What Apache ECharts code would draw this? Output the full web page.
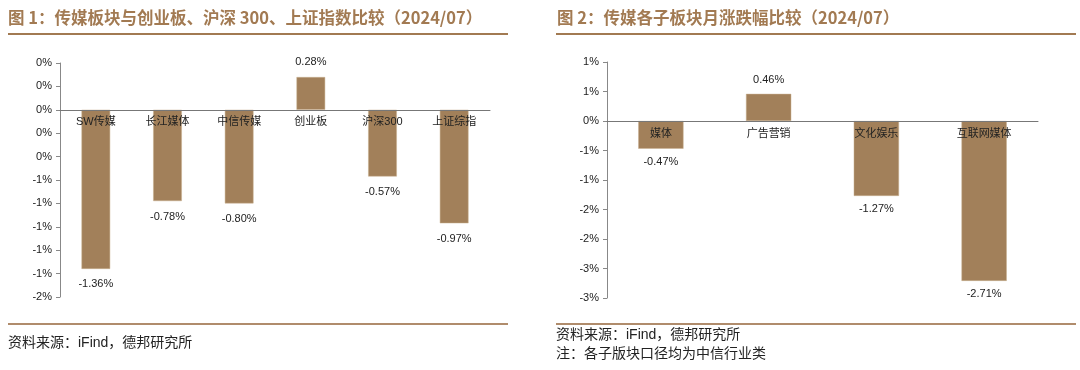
<!DOCTYPE html>
<html>
<head>
<meta charset="utf-8">
<script src="https://cdn.jsdelivr.net/npm/echarts@6/dist/echarts.min.js"></script>
<style>html,body{margin:0;padding:0;background:#fff}#c{width:1080px;height:370px}</style>
</head>
<body>
<div id="c"></div>
<script>
// ---- data ----
const title1 = '图 1：传媒板块与创业板、沪深 300、上证指数比较（2024/07）';
const title2 = '图 2：传媒各子板块月涨跌幅比较（2024/07）';
const cats1 = ['SW传媒', '长江媒体', '中信传媒', '创业板', '沪深300', '上证综指'];
const vals1 = [-1.36, -0.78, -0.80, 0.28, -0.57, -0.97];
const cats2 = ['媒体', '广告营销', '文化娱乐', '互联网媒体'];
const vals2 = [-0.47, 0.46, -1.27, -2.71];
const yRange1 = { min: -1.6, max: 0.4, interval: 0.2 };
const yRange2 = { min: -3, max: 1, interval: 0.5 };
const source1 = '资料来源：iFind，德邦研究所';
const source2 = '资料来源：iFind，德邦研究所';
const note2 = '注：各子版块口径均为中信行业类';

const BAR = '#a2805a';
const BROWN = '#a27a52';
const LINE = '#b08c6c';
const CJK = '"Liberation Sans", "Noto Sans CJK SC", sans-serif';
const LAT = '"Liberation Sans", Arial, sans-serif';

const grids = [
  { left: 60, top: 63, width: 430, height: 234 },
  { left: 607, top: 62, width: 431, height: 236 }
];

function tickFmt(v) {
  const r = Math.sign(v) * Math.round(Math.abs(v));
  return (r === 0 ? 0 : r) + '%';
}
function toData(vals, dist) {
  return vals.map(v => ({
    value: v,
    label: { position: v < 0 ? 'bottom' : 'top', distance: dist }
  }));
}
// place the category axis on the zero line (offset from grid bottom)
function zeroOffset(grid, r) {
  return -grid.height * (0 - r.min) / (r.max - r.min);
}

const chart = echarts.init(document.getElementById('c'), null, { renderer: 'canvas' });

const axisLabelX = { color: '#222', fontSize: 11, fontFamily: CJK, margin: 7, interval: 0 };
const axisLabelY = { color: '#222', fontSize: 11, fontFamily: LAT, margin: 8, formatter: tickFmt };

function xAxisFor(i, cats, r) {
  return {
    type: 'category', gridIndex: i, data: cats, position: 'bottom', z: 5,
    offset: zeroOffset(grids[i], r),
    axisLine: { onZero: false, lineStyle: { color: '#777', width: 1 } },
    axisTick: { inside: true, length: 4, lineStyle: { color: '#777' } },
    axisLabel: axisLabelX
  };
}
function yAxisFor(i, r) {
  return {
    type: 'value', gridIndex: i, min: r.min, max: r.max, interval: r.interval,
    axisLine: { show: true, lineStyle: { color: '#888' } },
    axisTick: { show: true, length: 4, lineStyle: { color: '#888' } },
    splitLine: { show: false },
    axisLabel: axisLabelY
  };
}
const barLabel = { show: true, color: '#222', fontSize: 11, fontFamily: LAT,
                   formatter: p => p.value.toFixed(2) + '%' };

chart.setOption({
  animation: false,
  grid: grids,
  xAxis: [xAxisFor(0, cats1, yRange1), xAxisFor(1, cats2, yRange2)],
  yAxis: [yAxisFor(0, yRange1), yAxisFor(1, yRange2)],
  series: [
    {
      type: 'bar', xAxisIndex: 0, yAxisIndex: 0, data: toData(vals1, 10),
      barWidth: '40%', z: 2,
      itemStyle: { color: BAR, borderColor: '#c8b090', borderWidth: 0.5 },
      label: barLabel
    },
    {
      type: 'bar', xAxisIndex: 1, yAxisIndex: 1, data: toData(vals2, 8),
      barWidth: '42%', z: 2,
      itemStyle: { color: BAR, borderColor: '#c8b090', borderWidth: 0.5 },
      label: barLabel
    }
  ],
  graphic: [
    { type: 'text', x: 8, y: 18, style: { text: title1, font: 'bold 16.5px "Noto Sans CJK SC", sans-serif', fill: BROWN, verticalAlign: 'middle' } },
    { type: 'text', x: 557, y: 18, style: { text: title2, font: 'bold 16.5px "Noto Sans CJK SC", sans-serif', fill: BROWN, verticalAlign: 'middle' } },
    { type: 'line', shape: { x1: 8, y1: 34, x2: 508, y2: 34 }, style: { stroke: BROWN, lineWidth: 2 } },
    { type: 'line', shape: { x1: 556, y1: 34, x2: 1076, y2: 34 }, style: { stroke: BROWN, lineWidth: 2 } },
    { type: 'line', shape: { x1: 8, y1: 324, x2: 508, y2: 324 }, style: { stroke: LINE, lineWidth: 2 } },
    { type: 'line', shape: { x1: 556, y1: 324, x2: 1076, y2: 324 }, style: { stroke: LINE, lineWidth: 2 } },
    { type: 'text', x: 8, y: 343, style: { text: source1, font: '14px ' + CJK, fill: '#222', verticalAlign: 'middle' } },
    { type: 'text', x: 556, y: 335, style: { text: source2, font: '14px ' + CJK, fill: '#222', verticalAlign: 'middle' } },
    { type: 'text', x: 556, y: 354, style: { text: note2, font: '14px ' + CJK, fill: '#222', verticalAlign: 'middle' } }
  ]
});
</script>
</body>
</html>
